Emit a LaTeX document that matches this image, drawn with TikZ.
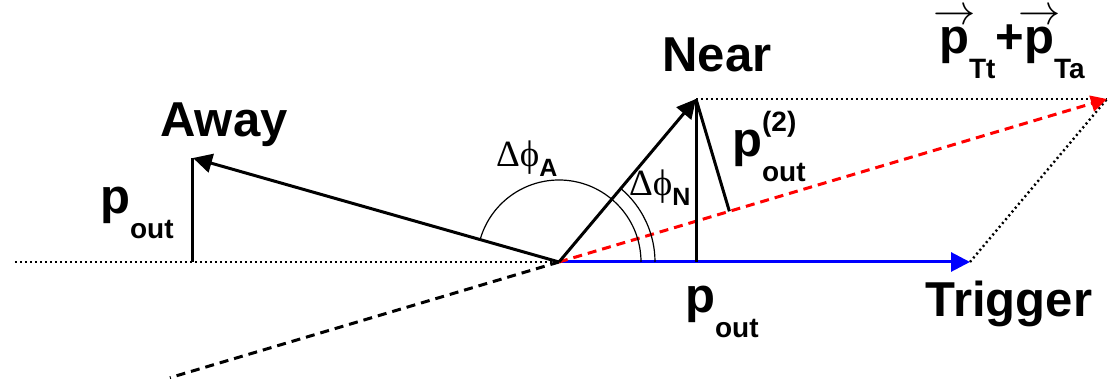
\documentclass[tikz,border=0pt]{standalone}
\usepackage{fontspec}
\newfontfamily\hel{Liberation Sans}
\newfontfamily\grec{Liberation Serif}
\usetikzlibrary{arrows.meta,calc,angles}

\newcommand{\grand}{\hel\bfseries\fontsize{49}{50}\selectfont}
\newcommand{\petit}{\hel\bfseries\fontsize{28}{28}\selectfont}
\newcommand{\indice}[1]{\raisebox{-25pt}{\petit #1}}
\newcommand{\expo}[1]{\raisebox{25pt}{\petit #1}}
\newcommand{\vecp}{\makebox[0pt][l]{\makebox[30pt][c]{\raisebox{29pt}{\scalebox{1.7}{\fontsize{24}{24}\selectfont$\rightarrow$}}}}p}
\newcommand{\dphi}[1]{{\grec\fontsize{37}{37}\selectfont Δϕ}\raisebox{-10pt}{\hel\bfseries\fontsize{25}{25}\selectfont #1}}

\begin{document}
\begin{tikzpicture}[x=1pt,y=1pt,
vecteur/.style={line width=3pt,-{Triangle[length=19pt,width=19pt]}},
trait/.style={line width=3pt},
pointille/.style={line width=2.4pt,dash pattern=on 2pt off 3pt},
tirets/.style={line width=3pt,dash pattern=on 9pt off 6pt},
etiquette/.style={inner sep=0pt,font=\grand}]

\useasboundingbox (-559,-117) rectangle (552,262);

% Vecteurs
\coordinate (O) at (0,0);
\coordinate (T) at (411,0);
\coordinate (N) at (137,163);
\coordinate (A) at (-366,104);
\coordinate (S) at (548,163);
\coordinate (L) at (-544,0);
\coordinate (Ab) at (A|-O);
\coordinate (Nb) at (N|-O);
\coordinate (P) at ($(O)!(N)!(S)$);
\coordinate (D) at ($(O)!-0.71!(S)$);

% Axe et parallelogramme
\draw[pointille] (L) -- (O);
\draw[pointille] (N) -- (S);
\draw[pointille] (T) -- (S);
\draw[tirets] (O) -- (D);

% Trigger
\draw[vecteur,blue] (O) -- (T);

% Somme
\draw[tirets,red,-{Triangle[length=16pt,width=16pt]}] (O) -- (S);

% Near et Away
\draw[vecteur] (O) -- (N);
\draw[vecteur] (O) -- (A);

% p_out
\draw[trait] (A) -- (Ab);
\draw[trait] (N) -- (Nb);
\draw[trait] (N) -- (P);

% Angles
\pic[draw,line width=1.2pt,angle radius=82pt] {angle=T--O--A};
\pic[draw,line width=1.2pt,angle radius=96pt] {angle=T--O--N};

% Etiquettes
\node[etiquette,anchor=base] (away) at (-335,125) {Away};
\node[etiquette,anchor=base] (near) at (158,190) {Near};
\node[etiquette,anchor=base] (trigger) at (450,-55) {Trigger};
\node[etiquette,anchor=base west] (poutA) at (-459,48)
{p\indice{out}};
\node[etiquette,anchor=base west] (poutT) at (126,-51)
{p\indice{out}};
\node[etiquette,anchor=base west] (poutN) at (173,105)
{p\rlap{\expo{(2)}}\indice{out}};
\node[etiquette,anchor=base west] (somme) at (380,208)
{\vecp\indice{Tt}+\vecp\indice{Ta}};
\node[inner sep=0pt,anchor=base west] (phiA) at (-63,95) {\dphi{A}};
\node[inner sep=0pt,anchor=base west] (phiN) at (70,66) {\dphi{N}};

\end{tikzpicture}
\end{document}
